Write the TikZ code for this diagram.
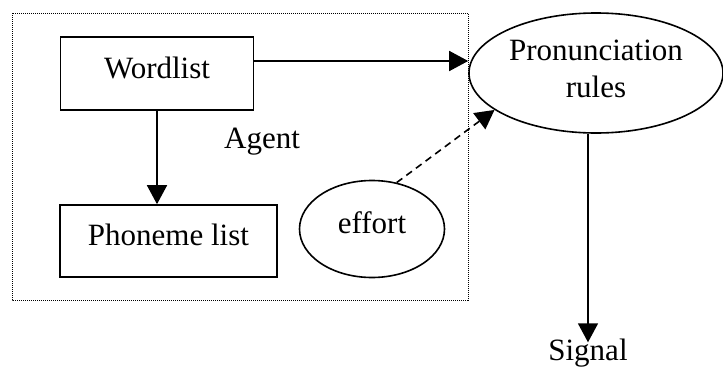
\documentclass[tikz,border=0pt]{standalone}
\usepackage{fontspec}
\setmainfont{Liberation Serif}
\usetikzlibrary{shapes.geometric,arrows.meta}

\begin{document}
\begin{tikzpicture}[x=1pt,y=-1pt,
    font=\fontsize{31}{37}\selectfont,
    box/.style={draw,rectangle,line width=1.6pt,inner sep=0,text depth=12pt},
    oval/.style={draw,ellipse,line width=1.6pt,inner sep=0,align=center},
    arr/.style={line width=1.6pt,-{Triangle[length=19pt,width=20pt]}}]

    \useasboundingbox (0,0) rectangle (723,367);

    %agent frame:
    \draw[line width=1pt,dash pattern=on 1pt off 1pt] (12,13) rectangle (468,300);

    %boxes and ovals:
    \node[box,minimum width=193pt,minimum height=73pt] (wordlist) at (157,73.5) {Wordlist};
    \node[box,minimum width=217pt,minimum height=72pt] (phoneme) at (168.5,241) {Phoneme list};
    \node[oval,minimum width=145pt,minimum height=97pt,text depth=12pt] (effort) at (372,229) {effort};
    \node[oval,minimum width=254pt,minimum height=120pt,text depth=8pt] (rules) at (596,73) {Pronunciation\\rules};

    %labels:
    \node[anchor=base,inner sep=0] (agent) at (262,148) {Agent};
    \node[anchor=base,inner sep=0] (signal) at (588,360) {Signal};

    %arrows:
    \draw[arr] (wordlist.south) -- (wordlist.south |- phoneme.north);
    \draw[arr] ([yshift=12.5pt]wordlist.east) -- ([yshift=12pt]rules.west);
    \draw[arr,dash pattern=on 7pt off 5pt] (effort.62) -- (rules.200);
    \draw[arr] (rules.south -| signal) -- ([yshift=-4pt]signal.north);

\end{tikzpicture}
\end{document}
